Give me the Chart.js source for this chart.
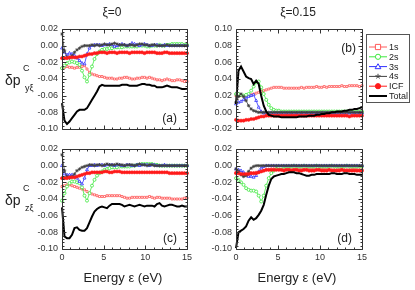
<!DOCTYPE html>
<html><head><meta charset="utf-8">
<script src="https://cdn.jsdelivr.net/npm/chart.js@4/dist/chart.umd.min.js"></script>
<style>
html,body{margin:0;padding:0;background:#fff;}
body{width:415px;height:290px;overflow:hidden;position:relative;font-family:"Liberation Sans",Arial,sans-serif;color:#222;}
canvas{position:absolute;left:0;top:0;}
.t{position:absolute;white-space:nowrap;line-height:1;}
.c{transform:translate(-50%,-50%);}
</style></head><body>
<canvas id="ca" width="415" height="290"></canvas>
<canvas id="cb" width="415" height="290"></canvas>
<canvas id="cc" width="415" height="290"></canvas>
<canvas id="cd" width="415" height="290"></canvas>
<div class="t c" style="left:112px;top:12px;font-size:12px">ξ=0</div>
<div class="t c" style="left:298px;top:12px;font-size:12px">ξ=0.15</div>
<div class="t" style="left:5px;top:73px;font-size:14px">δp</div>
<div class="t" style="left:23px;top:64px;font-size:9px">C</div>
<div class="t" style="left:25px;top:84px;font-size:9px">yξ</div>
<div class="t" style="left:5px;top:193px;font-size:14px">δp</div>
<div class="t" style="left:23px;top:184px;font-size:9px">C</div>
<div class="t" style="left:25px;top:204px;font-size:9px">zξ</div>
<div class="t c" style="left:123px;top:277px;font-size:13px">Energy ε (eV)</div>
<div class="t c" style="left:297px;top:277px;font-size:13px">Energy ε (eV)</div>
<script>
// ---------------- DATA ----------------
const energy = [0,0.3,0.6,0.9,1.2,1.5,1.8,2.1,2.4,2.7,
  3.0,3.3,3.6,3.9,4.2,4.5,4.8,5.1,5.4,5.7,
  6.0,6.3,6.6,6.9,7.2,7.5,7.8,8.1,8.4,8.7,
  9.0,9.3,9.6,9.9,10.2,10.5,10.8,11.1,11.4,11.7,
  12.0,12.3,12.6,12.9,13.2,13.5,13.8,14.1,14.4,14.7,
  15.0];
const seriesNames = ['1s','2s','3s','4s','ICF','Total'];
const xTickLabels = [0,5,10,15];
const yTicksNeg = [-0.10,-0.08,-0.06,-0.04,-0.02,0.00,0.02];
const yTicksPos = [-0.02,0.00,0.02,0.04,0.06,0.08,0.10];

// panel (a)  xi=0, delta p_y
const a1s = [-0.027,-0.026,-0.025,-0.026,-0.026,-0.027,-0.026,-0.026,-0.025,-0.024,
  -0.028,-0.032,-0.034,-0.035,-0.036,-0.037,-0.037,-0.038,-0.039,-0.039,
  -0.039,-0.040,-0.040,-0.039,-0.039,-0.038,-0.038,-0.039,-0.040,-0.040,
  -0.039,-0.039,-0.038,-0.038,-0.039,-0.038,-0.039,-0.040,-0.041,-0.041,
  -0.042,-0.041,-0.040,-0.041,-0.042,-0.042,-0.041,-0.041,-0.042,-0.043,
  -0.043];
const a2s = [-0.027,-0.024,-0.021,-0.020,-0.019,-0.020,-0.021,-0.023,-0.030,-0.038,
  -0.043,-0.035,-0.025,-0.016,-0.010,-0.007,-0.005,-0.004,-0.004,-0.003,
  -0.003,-0.002,-0.002,-0.002,-0.002,-0.001,-0.001,-0.001,-0.001,-0.001,
  -0.001,0.000,0.000,0.000,-0.001,-0.001,0.000,0.000,0.000,0.001,
  0.000,0.000,0.001,0.001,0.002,0.002,0.002,0.002,0.002,0.001,
  0.001];
const a3s = [-0.003,-0.008,-0.011,-0.009,-0.010,-0.012,-0.015,-0.018,-0.021,-0.022,
  -0.010,-0.003,0.000,0.001,0.001,0.001,0.000,0.001,0.001,0.002,
  0.001,-0.001,0.000,0.001,0.002,0.001,0.000,0.001,0.003,0.002,
  0.001,0.000,0.001,0.002,0.001,0.000,0.000,0.001,0.001,0.000,
  0.000,0.001,0.000,0.000,0.000,0.000,0.000,0.000,0.000,0.000,
  0.000];
const a4s = [0.014,-0.006,-0.014,-0.015,-0.012,-0.008,-0.005,-0.003,-0.001,0.000,
  0.000,0.000,0.001,0.000,0.001,0.000,0.001,0.002,0.001,0.001,
  0.002,0.003,0.002,0.001,0.001,0.001,0.000,0.001,0.001,0.000,
  0.001,0.002,0.002,0.001,0.001,0.000,0.001,0.001,0.000,0.000,
  0.000,0.000,0.001,0.000,0.000,0.000,0.000,0.000,0.000,0.000,
  0.000];
const aICF = [-0.015,-0.015,-0.015,-0.014,-0.014,-0.014,-0.014,-0.013,-0.013,-0.012,
  -0.011,-0.010,-0.010,-0.009,-0.009,-0.008,-0.008,-0.008,-0.009,-0.008,
  -0.008,-0.008,-0.009,-0.008,-0.008,-0.008,-0.008,-0.009,-0.008,-0.008,
  -0.008,-0.008,-0.008,-0.009,-0.008,-0.008,-0.008,-0.008,-0.009,-0.009,
  -0.009,-0.008,-0.008,-0.009,-0.009,-0.009,-0.009,-0.009,-0.009,-0.009,
  -0.009];
const aTot = [-0.069,-0.090,-0.094,-0.091,-0.087,-0.083,-0.079,-0.077,-0.077,-0.077,
  -0.075,-0.070,-0.065,-0.060,-0.055,-0.049,-0.047,-0.048,-0.048,-0.048,
  -0.048,-0.048,-0.048,-0.048,-0.047,-0.047,-0.047,-0.048,-0.048,-0.048,
  -0.048,-0.047,-0.046,-0.046,-0.047,-0.047,-0.048,-0.048,-0.050,-0.050,
  -0.050,-0.049,-0.048,-0.049,-0.050,-0.050,-0.050,-0.051,-0.052,-0.052,
  -0.052];

// panel (b)  xi=0.15, delta p_y
const b1s = [0.020,0.021,0.020,0.020,0.020,0.020,0.021,0.022,0.023,0.024,
  0.025,0.026,0.027,0.028,0.029,0.030,0.030,0.030,0.030,0.029,
  0.029,0.029,0.029,0.029,0.029,0.029,0.030,0.029,0.030,0.030,
  0.030,0.030,0.031,0.030,0.030,0.031,0.030,0.031,0.031,0.031,
  0.031,0.031,0.032,0.031,0.031,0.032,0.032,0.032,0.032,0.031,
  0.032];
const b2s = [0.022,0.022,0.021,0.020,0.021,0.022,0.026,0.031,0.036,0.037,
  0.030,0.022,0.015,0.009,0.005,0.003,0.002,0.002,0.001,0.001,
  0.001,0.001,0.001,0.001,0.001,0.001,0.001,0.001,0.001,0.001,
  0.001,0.001,0.001,0.001,0.001,0.001,0.001,0.001,0.001,0.001,
  0.001,0.001,0.001,0.001,0.001,0.001,0.001,0.001,0.001,0.001,
  0.001];
const b3s = [0.010,0.012,0.013,0.015,0.017,0.019,0.020,0.021,0.014,0.006,
  0.001,-0.001,-0.001,-0.001,-0.001,-0.001,-0.001,-0.001,-0.001,-0.001,
  -0.001,-0.001,-0.001,-0.001,-0.001,-0.001,-0.001,-0.001,-0.001,-0.001,
  -0.001,-0.001,-0.001,-0.001,-0.001,-0.001,-0.001,-0.001,-0.001,-0.001,
  -0.001,-0.001,-0.001,-0.001,-0.001,-0.001,-0.001,-0.001,-0.001,-0.001,
  -0.001];
const b4s = [0.012,0.019,0.022,0.019,0.014,0.008,0.004,0.002,0.001,0.000,
  0.000,0.000,0.000,0.000,0.000,0.000,0.000,0.000,0.000,0.000,
  0.000,0.000,0.000,0.000,0.000,0.000,0.000,0.000,0.000,0.000,
  0.000,0.000,0.000,0.000,0.000,0.000,0.000,0.000,0.000,0.000,
  0.000,0.000,0.000,0.000,0.000,0.000,0.000,0.000,0.000,0.000,
  0.000];
const bICF = [-0.009,-0.010,-0.010,-0.010,-0.009,-0.009,-0.008,-0.008,-0.007,-0.006,
  -0.005,-0.005,-0.004,-0.004,-0.004,-0.004,-0.004,-0.004,-0.004,-0.004,
  -0.004,-0.004,-0.004,-0.004,-0.004,-0.004,-0.004,-0.004,-0.004,-0.004,
  -0.004,-0.004,-0.004,-0.004,-0.004,-0.004,-0.004,-0.004,-0.004,-0.004,
  -0.004,-0.004,-0.004,-0.004,-0.004,-0.005,-0.004,-0.004,-0.004,-0.004,
  -0.004];
const bTot = [0.010,0.050,0.055,0.049,0.043,0.041,0.040,0.034,0.038,0.034,
  0.020,0.008,0.001,-0.003,-0.004,-0.005,-0.005,-0.005,-0.006,-0.006,
  -0.006,-0.006,-0.006,-0.006,-0.006,-0.005,-0.005,-0.005,-0.005,-0.004,
  -0.004,-0.004,-0.003,-0.003,-0.002,-0.002,-0.001,-0.001,0.000,0.000,
  0.001,0.001,0.001,0.002,0.002,0.003,0.003,0.004,0.004,0.005,
  0.006];

// panel (c)  xi=0, delta p_z
const c1s = [-0.025,-0.024,-0.023,-0.023,-0.024,-0.025,-0.026,-0.027,-0.028,-0.029,
  -0.031,-0.033,-0.034,-0.035,-0.036,-0.037,-0.037,-0.037,-0.036,-0.036,
  -0.036,-0.036,-0.036,-0.036,-0.037,-0.038,-0.039,-0.039,-0.038,-0.038,
  -0.038,-0.038,-0.038,-0.038,-0.038,-0.037,-0.038,-0.039,-0.038,-0.038,
  -0.039,-0.039,-0.039,-0.039,-0.040,-0.040,-0.040,-0.040,-0.040,-0.039,
  -0.039];
const c2s = [-0.042,-0.033,-0.025,-0.021,-0.019,-0.019,-0.020,-0.021,-0.026,-0.036,
  -0.042,-0.033,-0.024,-0.017,-0.012,-0.009,-0.007,-0.005,-0.004,-0.003,
  -0.002,-0.002,-0.002,-0.001,-0.001,-0.001,-0.001,-0.001,0.000,0.000,
  0.001,0.001,0.002,0.002,0.002,0.002,0.002,0.001,0.001,0.000,
  0.000,0.000,0.000,0.000,0.000,0.000,0.000,0.000,0.000,0.000,
  0.000];
const c3s = [0.000,-0.010,-0.011,-0.011,-0.011,-0.012,-0.015,-0.019,-0.022,-0.015,
  -0.005,0.000,0.000,0.001,0.000,0.001,0.001,0.000,0.001,0.001,
  0.001,0.000,0.001,0.001,0.000,0.000,0.001,0.001,0.000,0.000,
  0.001,0.000,0.001,0.001,0.001,0.000,0.001,0.001,0.000,0.000,
  0.000,0.001,0.000,0.000,0.000,0.000,0.000,0.000,0.000,0.000,
  0.000];
const c4s = [0.013,-0.006,-0.013,-0.015,-0.013,-0.010,-0.006,-0.004,-0.002,-0.001,
  0.000,0.001,0.001,0.000,0.001,0.001,0.000,0.001,0.002,0.001,
  0.001,0.001,0.002,0.001,0.001,0.000,0.001,0.001,0.001,0.000,
  0.001,0.002,0.001,0.001,0.000,0.001,0.001,0.000,0.000,0.000,
  0.000,0.000,0.000,0.000,0.000,0.000,0.000,0.000,0.000,0.000,
  0.000];
const cICF = [-0.015,-0.015,-0.015,-0.014,-0.014,-0.014,-0.013,-0.012,-0.011,-0.010,
  -0.009,-0.009,-0.008,-0.008,-0.008,-0.008,-0.008,-0.007,-0.007,-0.008,
  -0.008,-0.007,-0.007,-0.007,-0.008,-0.008,-0.008,-0.008,-0.008,-0.008,
  -0.008,-0.008,-0.008,-0.008,-0.008,-0.008,-0.008,-0.008,-0.008,-0.008,
  -0.008,-0.008,-0.008,-0.009,-0.009,-0.009,-0.009,-0.009,-0.009,-0.009,
  -0.009];
const cTot = [-0.050,-0.085,-0.087,-0.087,-0.083,-0.075,-0.074,-0.077,-0.078,-0.078,
  -0.075,-0.068,-0.061,-0.055,-0.052,-0.050,-0.049,-0.050,-0.051,-0.048,
  -0.046,-0.046,-0.046,-0.046,-0.047,-0.049,-0.048,-0.047,-0.048,-0.049,
  -0.048,-0.047,-0.048,-0.049,-0.048,-0.048,-0.048,-0.049,-0.046,-0.045,
  -0.048,-0.049,-0.048,-0.047,-0.047,-0.048,-0.049,-0.049,-0.048,-0.049,
  -0.049];

// panel (d)  xi=0.15, delta p_z
const d1s = [-0.008,-0.009,-0.010,-0.011,-0.011,-0.010,-0.009,-0.009,-0.008,-0.008,
  -0.007,-0.006,-0.005,-0.005,-0.004,-0.004,-0.004,-0.004,-0.005,-0.004,
  -0.004,-0.004,-0.004,-0.005,-0.004,-0.004,-0.004,-0.005,-0.005,-0.004,
  -0.004,-0.004,-0.005,-0.005,-0.004,-0.004,-0.004,-0.005,-0.005,-0.005,
  -0.005,-0.004,-0.004,-0.005,-0.005,-0.005,-0.004,-0.004,-0.005,-0.005,
  -0.005];
const d2s = [-0.015,-0.017,-0.020,-0.023,-0.027,-0.029,-0.030,-0.030,-0.031,-0.036,
  -0.043,-0.036,-0.024,-0.015,-0.009,-0.006,-0.004,-0.002,-0.002,-0.001,
  -0.001,-0.001,-0.001,0.000,-0.001,-0.001,-0.001,0.000,-0.001,-0.001,
  -0.001,-0.001,0.000,-0.001,-0.001,-0.001,-0.001,-0.001,0.000,-0.001,
  -0.001,-0.001,-0.001,-0.001,0.000,-0.001,-0.001,-0.001,-0.001,-0.001,
  -0.001];
const d3s = [-0.004,-0.005,-0.006,-0.008,-0.011,-0.013,-0.013,-0.014,-0.012,-0.007,
  -0.003,-0.001,0.000,0.000,0.000,0.000,0.000,0.000,0.000,0.000,
  0.000,0.000,0.000,0.000,0.000,0.000,0.000,0.000,0.000,0.000,
  0.000,0.000,0.000,0.000,0.000,0.000,0.000,0.000,0.000,0.000,
  0.000,0.000,0.000,0.000,0.000,0.000,0.000,0.000,0.000,0.000,
  0.000];
const d4s = [-0.004,-0.007,-0.011,-0.013,-0.012,-0.007,-0.003,-0.001,0.000,0.000,
  0.000,0.000,0.000,0.000,0.000,0.000,0.000,0.000,0.000,0.000,
  0.000,0.000,0.000,0.000,0.000,0.000,0.000,0.000,0.000,0.000,
  0.000,0.000,0.000,0.000,0.000,0.000,0.000,0.000,0.000,0.000,
  0.000,0.000,0.000,0.000,0.000,0.000,0.000,0.000,0.000,0.000,
  0.000];
const dICF = [-0.009,-0.009,-0.010,-0.010,-0.010,-0.010,-0.009,-0.009,-0.009,-0.008,
  -0.007,-0.006,-0.005,-0.005,-0.005,-0.005,-0.005,-0.005,-0.005,-0.006,
  -0.005,-0.005,-0.006,-0.005,-0.005,-0.006,-0.006,-0.005,-0.005,-0.006,
  -0.006,-0.006,-0.005,-0.005,-0.006,-0.006,-0.006,-0.005,-0.006,-0.006,
  -0.006,-0.006,-0.005,-0.006,-0.006,-0.006,-0.006,-0.006,-0.006,-0.006,
  -0.006];
const dTot = [-0.099,-0.080,-0.078,-0.076,-0.073,-0.066,-0.062,-0.065,-0.063,-0.059,
  -0.054,-0.047,-0.035,-0.024,-0.016,-0.013,-0.012,-0.011,-0.010,-0.010,
  -0.009,-0.008,-0.008,-0.008,-0.009,-0.009,-0.010,-0.011,-0.012,-0.012,
  -0.011,-0.011,-0.010,-0.010,-0.010,-0.010,-0.010,-0.010,-0.009,-0.009,
  -0.010,-0.010,-0.010,-0.009,-0.009,-0.010,-0.010,-0.010,-0.011,-0.011,
  -0.011];

// ---------------- STYLE ----------------
const STY = [
  {color:'#ff5a5a', lw:0.8, ps:'rect',     r:1.4, fill:'#ffffff', pbw:0.8, order:5},
  {color:'#3ee83e', lw:0.8, ps:'circle',   r:1.5, fill:'#ffffff', pbw:0.8, order:4},
  {color:'#3030ff', lw:0.8, ps:'triangle', r:1.7, fill:'#ffffff', pbw:0.8, order:3},
  {color:'#404040', lw:0.8, ps:'star',     r:1.7, fill:'#ffffff', pbw:0.8, order:2},
  {color:'#ff1a1a', lw:1.0, ps:'circle',   r:1.6, fill:'#ff1a1a', pbw:0.5, order:1},
  {color:'#000000', lw:2.0, ps:'circle',   r:0,   fill:'#000000', pbw:0,   order:0}
];
const YW = 40, XH = 20;
Chart.defaults.font.family = "'Liberation Sans', Arial, sans-serif";
Chart.defaults.color = '#333';

function makeDatasets(vals){
  return vals.map((ys,k)=>({
    label: seriesNames[k],
    data: energy.map((x,i)=>({x:x, y:ys[i]})),
    borderColor: STY[k].color, borderWidth: STY[k].lw,
    pointStyle: STY[k].ps, pointRadius: STY[k].r,
    pointBackgroundColor: STY[k].fill, pointBorderColor: STY[k].color,
    pointBorderWidth: STY[k].pbw, order: STY[k].order,
    tension: 0, fill: false, clip: 2
  }));
}

const framePlugin = {
  id:'frame',
  afterDraw(chart){
    const ctx = chart.ctx, a = chart.chartArea, xs = chart.scales.x, ys = chart.scales.y;
    const opt = chart.options.plugins.frame;
    ctx.save();
    ctx.strokeStyle = '#333'; ctx.lineWidth = 1;
    const L = Math.round(a.left)+0.5, R = Math.round(a.right)+0.5, T = Math.round(a.top)+0.5, B = Math.round(a.bottom)+0.5;
    ctx.beginPath(); ctx.rect(L, T, R-L, B-T); ctx.stroke();
    ctx.beginPath();
    for (let v = 0; v <= 15; v++) {
      const px = Math.round(xs.getPixelForValue(v))+0.5;
      const len = (v % 5 === 0) ? 4 : 2;
      ctx.moveTo(px, B); ctx.lineTo(px, B-len);
      ctx.moveTo(px, T); ctx.lineTo(px, T+len);
    }
    for (let k = 0; k <= 30; k++) {
      const v = ys.min + k*0.004;
      const py = Math.round(ys.getPixelForValue(v))+0.5;
      const len = (k % 5 === 0) ? 4 : 2;
      ctx.moveTo(L, py); ctx.lineTo(L+len, py);
      ctx.moveTo(R, py); ctx.lineTo(R-len, py);
    }
    ctx.stroke();
    ctx.fillStyle = '#222';
    ctx.font = "12px 'Liberation Sans', Arial, sans-serif";
    ctx.textAlign = 'right'; ctx.textBaseline = 'alphabetic';
    if (opt.top) ctx.fillText(opt.tag, a.right-6, a.top+23);
    else ctx.fillText(opt.tag, a.right-10, a.bottom-7);
    ctx.restore();
  }
};

function drawMarker(ctx, st, x, y, r){
  ctx.save();
  ctx.strokeStyle = st.color; ctx.fillStyle = st.fill; ctx.lineWidth = 1;
  ctx.beginPath();
  if (st.ps === 'rect') { ctx.rect(x-r, y-r, 2*r, 2*r); ctx.fill(); ctx.stroke(); }
  else if (st.ps === 'circle') { ctx.arc(x, y, r, 0, Math.PI*2); ctx.fill(); ctx.stroke(); }
  else if (st.ps === 'triangle') { ctx.moveTo(x, y-r*1.1); ctx.lineTo(x+r*1.1, y+r*0.8); ctx.lineTo(x-r*1.1, y+r*0.8); ctx.closePath(); ctx.fill(); ctx.stroke(); }
  else if (st.ps === 'star') {
    for (let i=0;i<5;i++){ const ang = -Math.PI/2 + i*2*Math.PI/5; ctx.moveTo(x,y); ctx.lineTo(x+r*Math.cos(ang), y+r*Math.sin(ang)); }
    ctx.stroke();
  }
  ctx.restore();
}

const legendPlugin = {
  id:'boxLegend',
  afterDraw(chart){
    const ctx = chart.ctx;
    const bx = 366.5, by = 34.5, bw = 43, bh = 68, rowH = 9.8, row0 = 47;
    ctx.save();
    ctx.strokeStyle = '#555'; ctx.lineWidth = 1;
    ctx.strokeRect(bx, by, bw, bh);
    ctx.font = "9px 'Liberation Sans', Arial, sans-serif";
    ctx.textAlign = 'left'; ctx.textBaseline = 'middle';
    seriesNames.forEach((name, k) => {
      const y = row0 + k*rowH, st = STY[k];
      ctx.strokeStyle = st.color; ctx.lineWidth = st.lw < 1 ? 1 : st.lw;
      ctx.beginPath(); ctx.moveTo(369, y); ctx.lineTo(387, y); ctx.stroke();
      if (st.r > 0) drawMarker(ctx, st, 378, y, 2.6);
      ctx.fillStyle = '#222';
      ctx.fillText(name, 389, y+0.5);
    });
    ctx.restore();
  }
};

function makeChart(id, vals, box, ymin, ymax, showX, frameOpt, extra){
  return new Chart(document.getElementById(id), {
    type:'line',
    data:{datasets: makeDatasets(vals)},
    options:{
      responsive:false, animation:false, devicePixelRatio:1,
      layout:{padding:{left:box.l-YW, right:415-box.r, top:box.t, bottom:290-box.b-XH}},
      plugins:{legend:{display:false}, tooltip:{enabled:false}, frame:frameOpt},
      scales:{
        x:{type:'linear', min:0, max:15,
           afterFit:s=>{s.height = XH;},
           afterBuildTicks:s=>{s.ticks = xTickLabels.map(v=>({value:v}));},
           grid:{display:false, drawTicks:false}, border:{display:false},
           ticks:{display:showX, padding:3, font:{size:9}, color:'#333', maxRotation:0, autoSkip:false}},
        y:{type:'linear', min:ymin, max:ymax,
           afterFit:s=>{s.width = YW;},
           afterBuildTicks:s=>{s.ticks = (ymax > 0.05 ? yTicksPos : yTicksNeg).map(v=>({value:v}));},
           grid:{display:false, drawTicks:false}, border:{display:false},
           ticks:{padding:4, font:{size:9}, color:'#333', autoSkip:false,
                  callback:v=>(Math.abs(v)<1e-9 ? '0.00' : Number(v).toFixed(2))}}
      }
    },
    plugins: [framePlugin].concat(extra || [])
  });
}

makeChart('ca', [a1s,a2s,a3s,a4s,aICF,aTot], {l:62,r:187,t:29,b:129}, -0.10, 0.02, false, {tag:'(a)', top:false});
makeChart('cb', [b1s,b2s,b3s,b4s,bICF,bTot], {l:236,r:362,t:29,b:129}, -0.02, 0.10, false, {tag:'(b)', top:true}, [legendPlugin]);
makeChart('cc', [c1s,c2s,c3s,c4s,cICF,cTot], {l:62,r:187,t:149,b:249}, -0.10, 0.02, true, {tag:'(c)', top:false});
makeChart('cd', [d1s,d2s,d3s,d4s,dICF,dTot], {l:236,r:362,t:149,b:249}, -0.10, 0.02, true, {tag:'(d)', top:false});
</script>
</body></html>
